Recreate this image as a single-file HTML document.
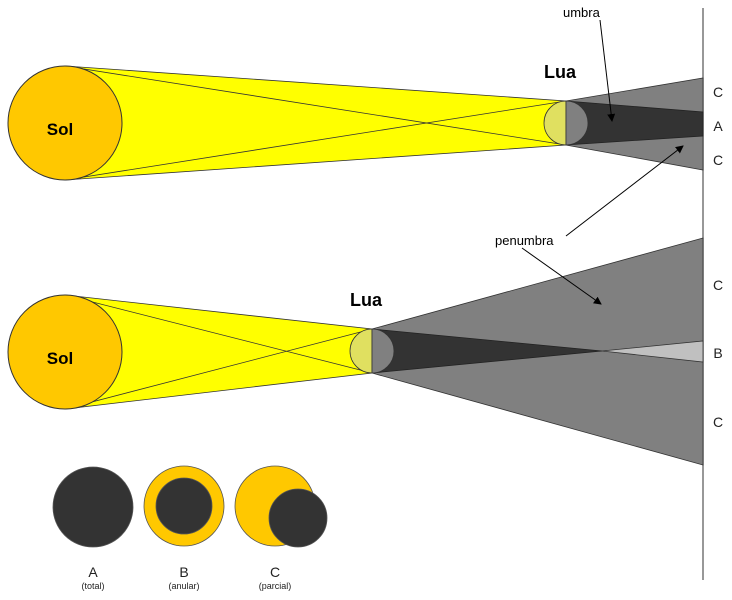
<!DOCTYPE html>
<html><head><style>body{margin:0;background:#fff}svg{display:block}</style></head><body>
<svg width="732" height="600" viewBox="0 0 732 600" xmlns="http://www.w3.org/2000/svg" font-family="Liberation Sans, sans-serif">
<defs><marker id="ar" markerWidth="8" markerHeight="8" refX="7" refY="4" orient="auto" markerUnits="userSpaceOnUse"><path d="M0,0 L8,4 L0,8 z" fill="#000"/></marker></defs>
<line x1="703" y1="8" x2="703" y2="580" stroke="#777" stroke-width="1.5"/>
<!-- top -->
<polygon points="566,101 703,78 703,170 566,145" fill="#808080" stroke="#333" stroke-width="0.8"/>
<polygon points="566,101 703,112 703,136 566,145" fill="#333" stroke="#222" stroke-width="0.8"/>
<polygon points="65,66 566,101 566,145 65,180" fill="#ffff00" stroke="#333" stroke-width="0.8"/>
<line x1="65" y1="66" x2="566" y2="145" stroke="#333" stroke-width="0.8"/>
<line x1="65" y1="180" x2="566" y2="101" stroke="#333" stroke-width="0.8"/>
<circle cx="65" cy="123" r="57" fill="#ffc800" stroke="#333" stroke-width="1"/>
<path d="M566,101 A22,22 0 0 0 566,145 Z" fill="#e0e060" stroke="#333" stroke-width="0.8"/>
<path d="M566,101 A22,22 0 0 1 566,145 Z" fill="#808080" stroke="#333" stroke-width="0.8"/>
<!-- bottom -->
<polygon points="372,329 703,238 703,465 372,373" fill="#808080" stroke="#333" stroke-width="0.8"/>
<polygon points="602,351 703,341 703,362" fill="#c0c0c0" stroke="#333" stroke-width="0.8"/>
<polygon points="372,329 602,351 372,373" fill="#333" stroke="#222" stroke-width="0.8"/>
<polygon points="65,295 372,329 372,373 65,409" fill="#ffff00" stroke="#333" stroke-width="0.8"/>
<line x1="65" y1="295" x2="372" y2="373" stroke="#333" stroke-width="0.8"/>
<line x1="65" y1="409" x2="372" y2="329" stroke="#333" stroke-width="0.8"/>
<circle cx="65" cy="352" r="57" fill="#ffc800" stroke="#333" stroke-width="1"/>
<path d="M372,329 A22,22 0 0 0 372,373 Z" fill="#e0e060" stroke="#333" stroke-width="0.8"/>
<path d="M372,329 A22,22 0 0 1 372,373 Z" fill="#808080" stroke="#333" stroke-width="0.8"/>
<!-- arrows -->
<line x1="600" y1="20" x2="612" y2="121" stroke="#000" stroke-width="1" marker-end="url(#ar)"/>
<line x1="566" y1="236" x2="683" y2="146" stroke="#000" stroke-width="1" marker-end="url(#ar)"/>
<line x1="522" y1="248" x2="601" y2="304" stroke="#000" stroke-width="1" marker-end="url(#ar)"/>
<!-- labels -->
<text x="563" y="17" font-size="13" fill="#000">umbra</text>
<text x="495" y="245" font-size="13" fill="#000">penumbra</text>
<text x="60" y="135" font-size="17" font-weight="bold" text-anchor="middle">Sol</text>
<text x="60" y="364" font-size="17" font-weight="bold" text-anchor="middle">Sol</text>
<text x="560" y="78" font-size="18" font-weight="bold" text-anchor="middle">Lua</text>
<text x="366" y="306" font-size="18" font-weight="bold" text-anchor="middle">Lua</text>
<g font-size="14" fill="#222" text-anchor="middle">
<text x="718" y="97">C</text><text x="718" y="131">A</text><text x="718" y="165">C</text>
<text x="718" y="290">C</text><text x="718" y="358">B</text><text x="718" y="427">C</text>
<text x="93" y="577">A</text><text x="184" y="577">B</text><text x="275" y="577">C</text>
</g>
<g font-size="9" fill="#222" text-anchor="middle">
<text x="93" y="589">(total)</text><text x="184" y="589">(anular)</text><text x="275" y="589">(parcial)</text>
</g>
<!-- eclipse types -->
<circle cx="93" cy="507" r="40" fill="#333" stroke="#555" stroke-width="0.8"/>
<circle cx="184" cy="506" r="40" fill="#ffc800" stroke="#555" stroke-width="0.8"/>
<circle cx="184" cy="506" r="28" fill="#333" stroke="#555" stroke-width="0.8"/>
<circle cx="275" cy="506" r="40" fill="#ffc800" stroke="#555" stroke-width="0.8"/>
<circle cx="298" cy="518" r="29" fill="#333" stroke="#555" stroke-width="0.8"/>
</svg>
</body></html>
